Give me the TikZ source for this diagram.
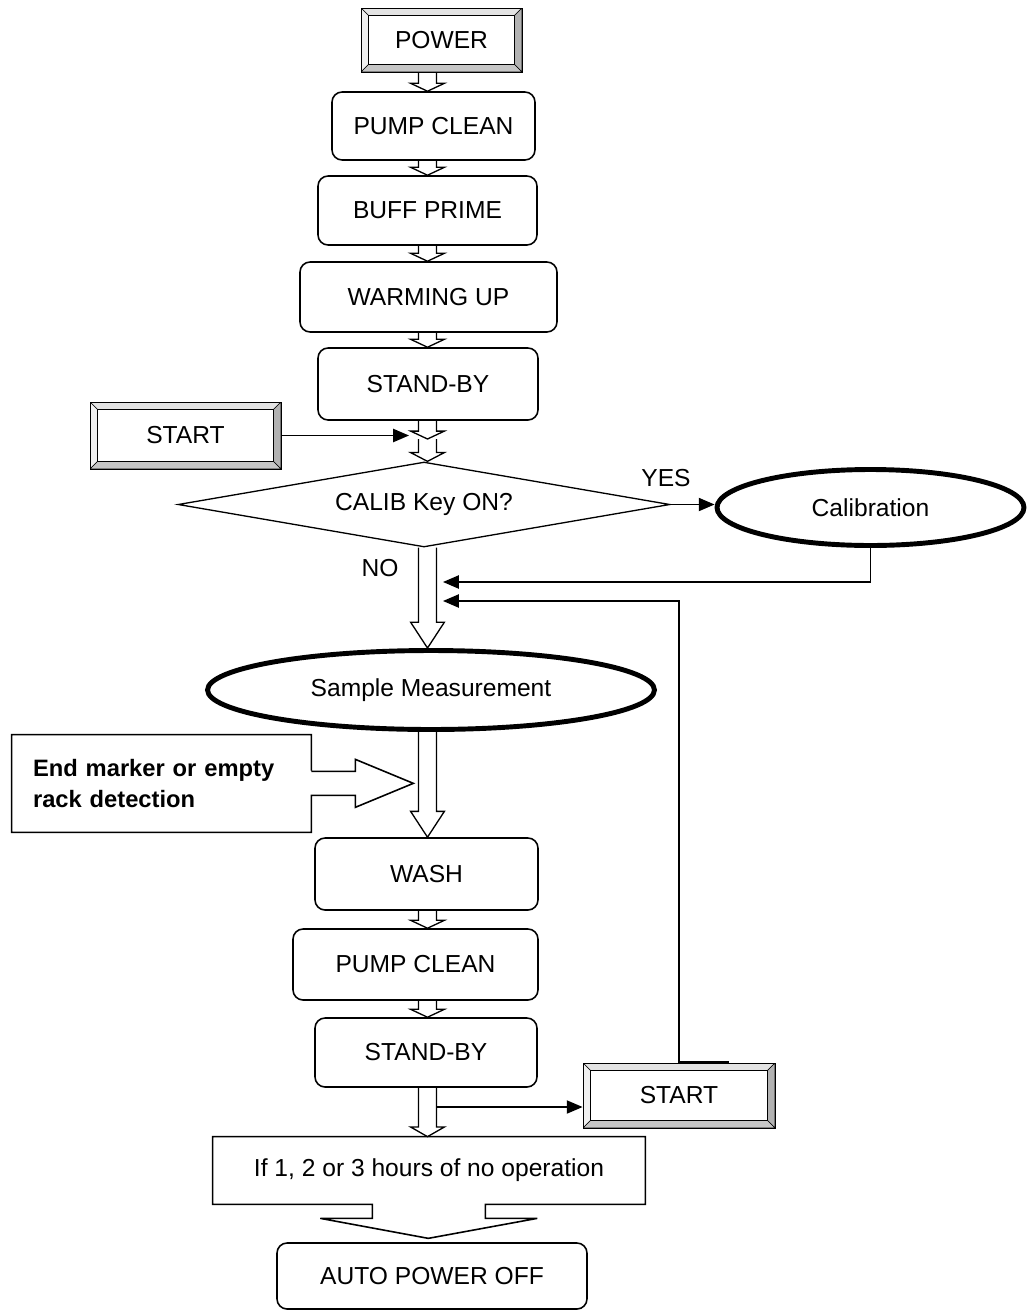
\documentclass[tikz,border=0pt]{standalone}
\usepackage{fontspec}
\setmainfont{Liberation Sans}
\usetikzlibrary{shapes.geometric,arrows.meta,calc}
\newcommand{\stemw}{5.1pt}
\newcommand{\headw}{9.6pt}
\newcommand{\bev}{4.2pt}
% hollow block arrow going down: from, to, head length
\newcommand{\harrow}[3]{%
  \draw[hollow] let \p1=#1, \p2=#2 in
    (\x1-\stemw,\y1) -- (\x1-\stemw,\y2+#3) -- (\x1-\headw,\y2+#3) -- (\x1,\y2)
    -- (\x1+\headw,\y2+#3) -- (\x1+\stemw,\y2+#3) -- (\x1+\stemw,\y1);}
\begin{document}
\begin{tikzpicture}[x=0.02cm,y=-0.02cm,
  every node/.style={font=\fontsize{14}{16}\selectfont},
  stepbox/.style={rectangle, rounded corners=0.2cm, draw, line width=0.9pt, inner sep=0pt},
  oval/.style={ellipse, draw, line width=2.8pt, inner sep=0pt},
  hollow/.style={line width=0.75pt, line join=miter},
  link/.style={line width=0.85pt, -{Triangle[length=9pt,width=7.5pt]}},
  button/.style={rectangle, draw, line width=0.5pt, inner sep=0pt,
    path picture={
      \path (path picture bounding box.north west) coordinate (bnw)
            (path picture bounding box.north east) coordinate (bne)
            (path picture bounding box.south east) coordinate (bse)
            (path picture bounding box.south west) coordinate (bsw);
      \filldraw[fill=gray!22, line width=0.3pt] (bnw) -- (bne) -- ([shift={(-\bev,-\bev)}]bne) -- ([shift={(\bev,-\bev)}]bnw) -- cycle;
      \filldraw[fill=gray!12, line width=0.3pt] (bnw) -- (bsw) -- ([shift={(\bev,\bev)}]bsw) -- ([shift={(\bev,-\bev)}]bnw) -- cycle;
      \filldraw[fill=gray!60, line width=0.3pt] (bne) -- (bse) -- ([shift={(-\bev,\bev)}]bse) -- ([shift={(-\bev,-\bev)}]bne) -- cycle;
      \filldraw[fill=gray!45, line width=0.3pt] (bsw) -- (bse) -- ([shift={(-\bev,\bev)}]bse) -- ([shift={(\bev,\bev)}]bsw) -- cycle;
      \draw[line width=0.9pt] ([shift={(\bev,-\bev)}]bnw) rectangle ([shift={(-\bev,\bev)}]bse);
    }}]
\useasboundingbox (0,0) rectangle (1029,1312);

%%% start up sequence
\node[button, minimum width=3.22cm, minimum height=1.28cm] (power) at (441.5,40) {POWER};
\node[stepbox, minimum width=4.06cm, minimum height=1.36cm] (pc1) at (433.5,126) {PUMP CLEAN};
\node[stepbox, minimum width=4.38cm, minimum height=1.38cm] (bp) at (427.5,210.5) {BUFF PRIME};
\node[stepbox, minimum width=5.14cm, minimum height=1.4cm] (wu) at (428.5,297) {WARMING UP};
\node[stepbox, minimum width=4.4cm, minimum height=1.44cm] (sb1) at (428,384) {STAND-BY};
\node[button, minimum width=3.82cm, minimum height=1.34cm] (start1) at (185.5,435.5) {START};

%%% calibration question
\node[diamond, draw, line width=0.75pt, aspect=5.8, minimum width=9.84cm, minimum height=1.7cm, inner sep=0pt] (calib) at (424,504.5) {CALIB Key ON?};
\node[oval, minimum width=6.14cm, minimum height=1.52cm] (cal) at (870.5,507.5) {Calibration};
\node (yes) at (666,478) {YES};
\node (no) at (380,568) {NO};

%%% measurement
\node[oval, minimum width=8.94cm, minimum height=1.58cm] (sm) at (431,690) {Sample Measurement};
\node[rectangle, inner sep=0pt, minimum width=5.98cm, minimum height=1.94cm, text width=5.14cm, align=left,
  font=\bfseries\fontsize{13.5}{18}\selectfont] (endm) at (161.5,783.5) {End marker or empty\\rack detection};
\node[stepbox, minimum width=4.46cm, minimum height=1.44cm] (wash) at (426.5,874) {WASH};
\node[stepbox, minimum width=4.9cm, minimum height=1.42cm] (pc2) at (415.5,964.5) {PUMP CLEAN};
\node[stepbox, minimum width=4.44cm, minimum height=1.38cm] (sb2) at (426,1052.5) {STAND-BY};
\node[button, minimum width=3.84cm, minimum height=1.3cm] (start2) at (679,1095.5) {START};

%%% power off
\node[rectangle, inner sep=0pt, minimum width=8.64cm, minimum height=1.34cm] (idle) at (429,1170.5) {If 1, 2 or 3 hours of no operation};
\node[stepbox, minimum width=6.2cm, minimum height=1.32cm] (apo) at (432,1276) {AUTO POWER OFF};

% box with its own arrow
\draw[hollow, line width=0.9pt] (endm.east) ++(0,-13) -- (endm.north east) -- (endm.north west) -- (endm.south west)
  -- (endm.south east) -- ++(0,-37) -- ++(44,0) -- ++(0,12) -- ++(58,-24) -- ++(-58,-24) -- ++(0,12) -- ++(-44,0);
\draw[line width=0.9pt, line join=miter] (idle.north west) -- (idle.north east) -- (idle.south east)
  -- ++(-160,0) -- ++(0,14) -- ++(52,0) -- ++(-109,20) -- ++(-108,-20) -- ++(52,0) -- ++(0,-14)
  -- (idle.south west) -- cycle;

%%% hollow arrows down the column
\coordinate (axis) at (427.5,0);
\coordinate (mid) at (427.5,439);
\harrow{(power.south -| axis)}{(pc1.north -| axis)}{4.5pt}
\harrow{(pc1.south -| axis)}{(bp.north -| axis)}{4.5pt}
\harrow{(bp.south -| axis)}{(wu.north -| axis)}{4.5pt}
\harrow{(wu.south -| axis)}{(sb1.north -| axis)}{4.5pt}
\harrow{(sb1.south -| axis)}{(mid)}{4.5pt}
\harrow{(mid)}{(calib.north -| axis)}{5pt}
\harrow{(calib.south -| axis)}{(sm.north -| axis)}{14.7pt}
\harrow{(sm.south -| axis)}{(wash.north -| axis)}{14.7pt}
\harrow{(wash.south -| axis)}{(pc2.north -| axis)}{4.5pt}
\harrow{(pc2.south -| axis)}{(sb2.north -| axis)}{4.5pt}
\harrow{(sb2.south -| axis)}{(idle.north -| axis)}{5.5pt}

%%% line arrows
\coordinate (stemin) at (409,0);
\coordinate (ret1) at (443,582);
\coordinate (ret2) at (443,601);
\coordinate (tap) at (436,1107);
\draw[link] (start1.east) -- (start1.east -| stemin);
\draw[link] (calib.east) -- (calib.east -| cal.west);
\draw[link] (cal.south) |- (ret1);
\draw[link] (start2.north) |- (ret2);
\draw[line width=1.3pt] (start2.north) -- ++(50,0);
\draw[link] (tap) -- (tap -| start2.west);
\end{tikzpicture}
\end{document}
